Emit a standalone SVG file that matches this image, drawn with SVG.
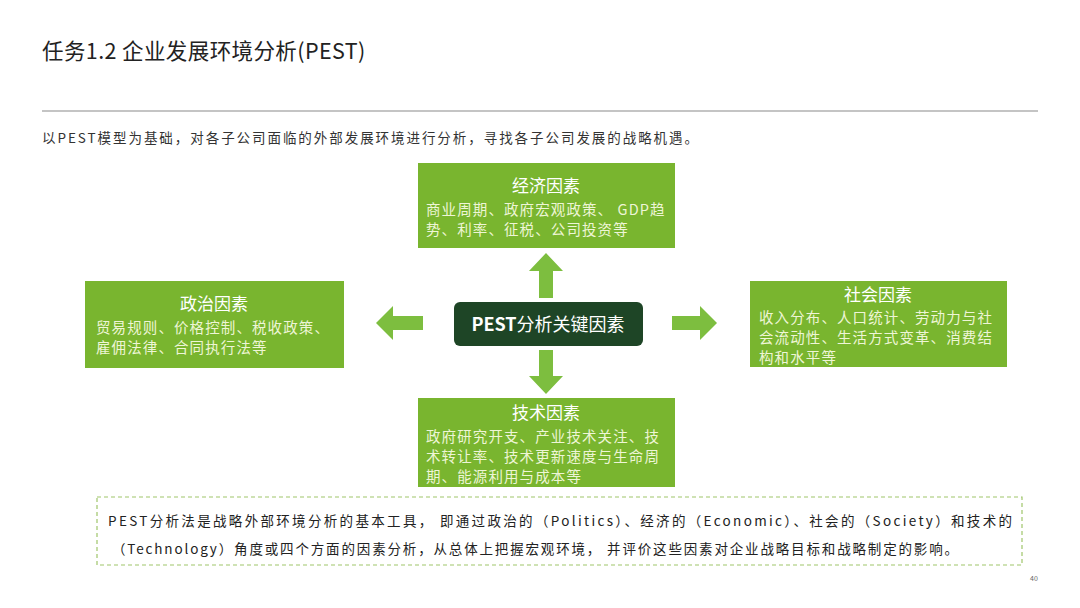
<svg xmlns="http://www.w3.org/2000/svg" width="1080" height="608" viewBox="0 0 1080 608">
<style>
text{font-family:"Noto Sans CJK SC","Noto Sans",sans-serif;}
.box{fill:#79b52f;}
.ttl{fill:#ffffff;font-size:17px;text-anchor:middle;}
.bd{fill:#eef5d6;font-size:14.5px;letter-spacing:1.1px;}
.arr{fill:#7dbe3f;}
.nt{font-size:13.5px;fill:#222;}
</style>
<rect width="1080" height="608" fill="#ffffff"/>
<g id="header">
<text x="42" y="59" font-size="21.5" fill="#222" letter-spacing="0.4">任务1.2 企业发展环境分析(PEST)</text>
<line x1="42" y1="111" x2="1038" y2="111" stroke="#b0b0b0" stroke-width="1.5"/>
<text x="42" y="143" font-size="13.5" fill="#333" textLength="656" lengthAdjust="spacing">以PEST模型为基础，对各子公司面临的外部发展环境进行分析，寻找各子公司发展的战略机遇。</text>
</g>
<g id="center">
<rect x="454" y="302" width="189" height="44" rx="6" fill="#1e4526"/>
<text x="548" y="331" font-size="18" fill="#fff" text-anchor="middle"><tspan font-weight="bold">PEST</tspan>分析关键因素</text>
</g>
<g id="economic">
<rect class="box" x="418" y="163" width="257" height="85"/>
<text class="ttl" x="546" y="192">经济因素</text>
<text class="bd" x="426" y="215">商业周期、政府宏观政策、  GDP趋</text>
<text class="bd" x="426" y="235">势、利率、征税、公司投资等</text>
</g>
<g id="political">
<rect class="box" x="85" y="281" width="259" height="87"/>
<text class="ttl" x="214" y="310">政治因素</text>
<text class="bd" x="96" y="333">贸易规则、价格控制、税收政策、</text>
<text class="bd" x="96" y="353">雇佣法律、合同执行法等</text>
</g>
<g id="social">
<rect class="box" x="750" y="281" width="257" height="86"/>
<text class="ttl" x="878" y="301">社会因素</text>
<text class="bd" x="759" y="323">收入分布、人口统计、劳动力与社</text>
<text class="bd" x="759" y="343">会流动性、生活方式变革、消费结</text>
<text class="bd" x="759" y="363">构和水平等</text>
</g>
<g id="technology">
<rect class="box" x="418" y="398" width="257" height="89"/>
<text class="ttl" x="546" y="419">技术因素</text>
<text class="bd" x="426" y="442">政府研究开支、产业技术关注、技</text>
<text class="bd" x="426" y="462">术转让率、技术更新速度与生命周</text>
<text class="bd" x="426" y="482">期、能源利用与成本等</text>
</g>
<g id="connectors">
<polygon class="arr" points="546,253 563,271 553,271 553,298 539,298 539,271 529,271"/>
<polygon class="arr" points="546,394 563,376 553,376 553,350 539,350 539,376 529,376"/>
<polygon class="arr" points="376,323 393,306 393,316 423,316 423,330 393,330 393,340"/>
<polygon class="arr" points="717,323 700,306 700,316 672,316 672,330 700,330 700,340"/>
</g>
<g id="note">
<rect x="97" y="497" width="925" height="68" fill="none" stroke="#9fc56a" stroke-width="1.2" stroke-dasharray="4,3"/>
<text class="nt" x="108" y="526" textLength="904" lengthAdjust="spacing">PEST分析法是战略外部环境分析的基本工具， 即通过政治的（Politics）、经济的（Economic）、社会的（Society）和技术的</text>
<text class="nt" x="112" y="554" textLength="846" lengthAdjust="spacing">（Technology）角度或四个方面的因素分析，从总体上把握宏观环境， 并评价这些因素对企业战略目标和战略制定的影响。</text>
</g>
<text x="1030" y="581" font-size="7" fill="#666">40</text>
</svg>
